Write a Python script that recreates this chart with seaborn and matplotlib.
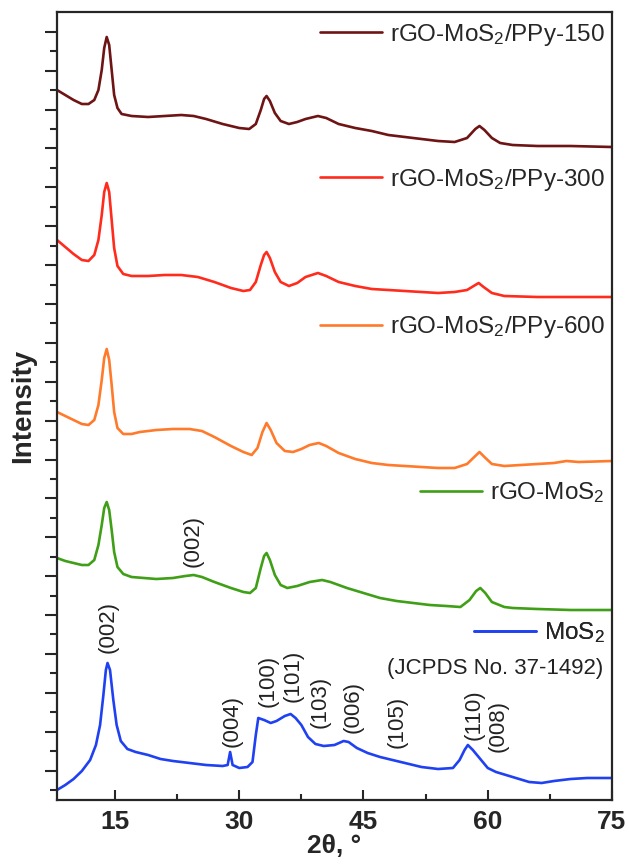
import numpy as np
import pandas as pd
import matplotlib
matplotlib.use("Agg")
import matplotlib.pyplot as plt
import seaborn as sns

# XRD patterns, values (2theta, stacked intensity a.u.)
tt_150 = [8, 9, 10, 11, 11.8, 12.5, 13.0, 13.4, 13.7, 14.0, 14.3, 14.6, 14.9, 15.3, 15.8,
          17, 19, 21, 23, 24.5, 26, 28, 30, 31.2, 32.0, 32.6, 33.0, 33.3, 33.7, 34.3,
          35.0, 36.0, 37.0, 38.0, 39.5, 40.5, 42, 44, 46, 48, 50, 52, 54, 56, 57.5,
          58.5, 59.0, 59.6, 60.5, 61.5, 63, 66, 70, 75]
int_150 = [710, 705, 700, 696, 696, 700, 710, 730, 752, 763, 755, 730, 705, 692, 686,
           684, 683, 684, 685, 684, 681, 676, 672, 671, 676, 690, 701, 704, 699, 687,
           679, 676, 678, 681, 684, 682, 676, 672, 669, 665, 663, 661, 659, 658, 662,
           671, 674, 670, 662, 657, 655, 654, 654, 653]

tt_300 = [8, 9, 10, 11, 11.8, 12.5, 13.0, 13.4, 13.7, 14.0, 14.3, 14.6, 14.9, 15.3, 16,
          17, 19, 21, 23, 25, 27, 29, 30.5, 31.3, 32.0, 32.6, 33.0, 33.3, 33.7, 34.3,
          35, 36, 37, 38, 39.5, 40.5, 42, 44, 46, 48, 50, 52, 54, 56, 57.5,
          58.3, 58.9, 59.5, 60.5, 62, 66, 70, 75]
int_300 = [560, 553, 546, 540, 539, 545, 560, 585, 608, 617, 608, 580, 552, 534, 526,
           524, 524, 525, 525, 523, 518, 512, 509, 510, 518, 535, 545, 548, 542, 528,
           518, 514, 517, 523, 527, 524, 518, 514, 511, 510, 509, 508, 507, 508, 510,
           514, 517, 513, 507, 504, 503, 503, 503]

tt_600 = [8, 9, 10, 11, 11.8, 12.5, 13.0, 13.4, 13.7, 14.0, 14.3, 14.6, 14.9, 15.3, 16,
          17, 18, 20, 22, 24, 25.5, 27, 29, 30.5, 31.5, 32.2, 32.8, 33.3, 33.8, 34.5,
          35.5, 36.5, 37.5, 38.5, 39.6, 40.5, 42, 44, 46, 48, 50, 52, 54, 56, 57.5,
          58.5, 59.0, 59.6, 60.5, 62, 64, 66, 68, 69.5, 71, 75]
int_600 = [388, 384, 380, 376, 375, 380, 395, 420, 442, 451, 440, 415, 388, 372, 366,
           366, 368, 370, 371, 371, 369, 363, 354, 348, 345, 352, 368, 377, 370, 357,
           349, 348, 351, 355, 357, 354, 347, 341, 337, 335, 334, 333, 332, 332, 336,
           344, 348, 343, 336, 334, 335, 336, 337, 339, 338, 339]

tt_rgo = [8, 9, 10, 11, 11.8, 12.5, 13.0, 13.4, 13.7, 14.0, 14.3, 14.6, 14.9, 15.3, 16,
          17, 18.5, 20, 22, 23.5, 24.5, 25.5, 27, 29, 30.5, 31.3, 32.0, 32.6, 33.0, 33.3,
          33.7, 34.3, 35.0, 35.8, 37, 38.5, 40.0, 41, 43, 45, 47, 49, 51, 53, 55,
          56.7, 57.8, 58.6, 59.1, 59.7, 60.5, 62, 63, 66, 70, 75]
int_rgo = [242, 239, 237, 235, 235, 240, 255, 275, 292, 298, 290, 270, 248, 233, 226,
           223, 222, 221, 222, 224, 225, 223, 218, 212, 208, 207, 212, 232, 244, 247,
           240, 225, 215, 212, 214, 218, 220, 218, 212, 207, 202, 199, 197, 195, 194,
           193, 200, 209, 212, 207, 198, 193, 192, 191, 190, 190]

tt_mos2 = [8, 9, 10, 11, 12, 12.7, 13.2, 13.6, 13.9, 14.1, 14.4, 14.8, 15.2, 15.7, 16.5,
           17.5, 19, 20.5, 22, 24, 26, 28, 28.6, 28.9, 29.2, 30, 31, 31.6, 32.0, 32.3,
           33.0, 33.8, 34.5, 35.5, 36.2, 36.8, 37.5, 38.3, 39.2, 40.2, 41.5, 42.6, 43.2, 44.2, 45.5,
           47, 48.5, 50, 52, 54, 55.8, 56.6, 57.2, 57.6, 58.2, 59.0, 60.0, 61, 63, 65,
           66.5, 68, 70, 72, 75]
int_mos2 = [10, 15, 21, 29, 40, 55, 75, 105, 130, 137, 130, 100, 75, 59, 51,
            48, 45, 41, 39, 37, 35, 34, 35, 48, 35, 32, 33, 38, 65, 82,
            80, 77, 79, 84, 86, 82, 75, 63, 56, 54, 55, 59, 58, 52, 47,
            43, 40, 37, 33, 31, 32, 40, 50, 55, 50, 42, 32, 28, 23, 18,
            17, 19, 21, 22, 22]

labels = ["rGO-MoS$_2$/PPy-150", "rGO-MoS$_2$/PPy-300", "rGO-MoS$_2$/PPy-600",
          "rGO-MoS$_2$", "MoS$_2$"]
colors = ["#6e1414", "#ff2b1c", "#ff7a2a", "#3f9f16", "#1f41f2"]

# hkl labels
hkl = ["(002)", "(002)", "(004)", "(100)", "(101)", "(103)", "(006)", "(105)", "(110)", "(008)"]
hkl_tt = [24.4, 14.2, 29.2, 33.5, 36.5, 39.8, 43.7, 49.1, 58.3, 61.2]
hkl_y = [233, 147, 53, 93, 98, 72, 67, 52, 60, 48]

series = [(tt_150, int_150), (tt_300, int_300), (tt_600, int_600),
          (tt_rgo, int_rgo), (tt_mos2, int_mos2)]
frames = []
for (tt, it), lab in zip(series, labels):
    frames.append(pd.DataFrame({"tt": tt, "I": it, "sample": lab}))
df = pd.concat(frames, ignore_index=True)

sns.set_style("ticks")
plt.rcParams["font.family"] = ["Liberation Sans", "DejaVu Sans"]
plt.rcParams["mathtext.fontset"] = "custom"
plt.rcParams["mathtext.rm"] = "Liberation Sans"
plt.rcParams["mathtext.it"] = "Liberation Sans:italic"
plt.rcParams["mathtext.bf"] = "Liberation Sans:bold"

fig = plt.figure(figsize=(6.29, 8.65), dpi=100)
ax = fig.add_axes([57 / 629, 65 / 865, 555 / 629, 788 / 865])

sns.lineplot(data=df, x="tt", y="I", hue="sample", palette=colors, hue_order=labels,
             sort=False, estimator=None, linewidth=1.9, legend=False, ax=ax)

# one small legend per trace, stacked on the right
leg_y = [0.971, 0.787, 0.600, 0.390, 0.212]
for i, (line, lab) in enumerate(zip(ax.lines, labels)):
    leg = ax.legend(handles=[line], labels=[lab], loc="center right",
                    bbox_to_anchor=(1.0, leg_y[i]), frameon=False, fontsize=17.5,
                    borderaxespad=0, borderpad=0.3, handlelength=2.55,
                    handletextpad=0.33)
    ax.add_artist(leg)

ax.text(0.984, 0.1675, "(JCPDS No. 37-1492)", transform=ax.transAxes,
        ha="right", va="center", fontsize=16, color="#222222")

for s, x, y in zip(hkl, hkl_tt, hkl_y):
    ax.text(x, y, s, rotation=90, ha="center", va="bottom", fontsize=16, color="#222222")

ax.set_xlim(8, 75)
ax.set_ylim(0, 788)
ax.set_xticks([15, 30, 45, 60, 75])
ax.set_xticks([22.5, 37.5, 52.5, 67.5], minor=True)
yt = 10 + 19.44 * np.arange(40)
ax.set_yticks(yt[1::2])
ax.set_yticks(yt[0::2], minor=True)
ax.tick_params(axis="x", which="major", direction="in", length=7, width=1.5,
               labelsize=19, pad=7)
ax.tick_params(axis="x", which="minor", direction="in", length=4.5, width=1.5)
ax.tick_params(axis="y", which="major", direction="out", length=9, width=1.5,
               labelleft=False)
ax.tick_params(axis="y", which="minor", direction="out", length=5, width=1.5)
for t in ax.get_xticklabels():
    t.set_fontweight("bold")
for sp in ax.spines.values():
    sp.set_linewidth(1.6)
    sp.set_visible(True)

ax.set_xlabel("2θ, °", fontsize=19, fontweight="bold", labelpad=0)
ax.set_ylabel("Intensity", fontsize=20, fontweight="bold", labelpad=6)

fig.savefig("out.png", dpi=100)
